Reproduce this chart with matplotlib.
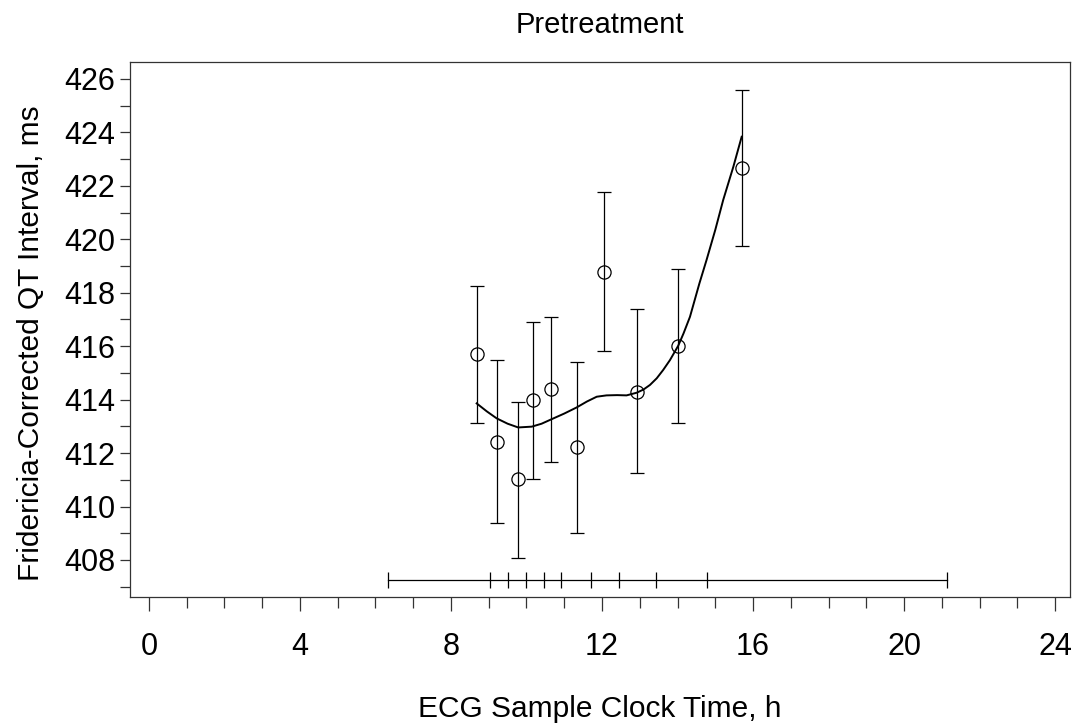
import matplotlib
matplotlib.use("Agg")
import matplotlib.pyplot as plt
from matplotlib.ticker import MultipleLocator

plt.rcParams['font.family'] = ['Liberation Sans', 'DejaVu Sans']

# Binned means with 95% CI
time_h = [8.68, 9.22, 9.78, 10.16, 10.65, 11.33, 12.04, 12.93, 14.01, 15.72]
qtcf_mean = [415.71, 412.43, 411.02, 413.97, 414.40, 412.23, 418.78, 414.30, 416.02, 422.66]
ci_low = [413.13, 409.38, 408.09, 411.04, 411.67, 409.00, 415.82, 411.24, 413.13, 419.75]
ci_high = [418.25, 415.49, 413.90, 416.89, 417.09, 415.42, 421.77, 417.39, 418.89, 425.58]

# Smoothed fit curve
curve_x = [8.68, 8.95, 9.21, 9.50, 9.78, 10.14, 10.40, 10.62, 11.00, 11.33, 11.60, 11.86,
           12.12, 12.40, 12.65, 12.92, 13.10, 13.27, 13.45, 13.62, 13.80, 14.02, 14.16,
           14.33, 14.42, 14.58, 14.77, 15.00, 15.21, 15.48, 15.70]
curve_y = [413.86, 413.56, 413.30, 413.10, 412.96, 412.99, 413.10, 413.24, 413.48, 413.71,
           413.93, 414.11, 414.16, 414.17, 414.16, 414.26, 414.38, 414.55, 414.80, 415.11,
           415.48, 416.02, 416.48, 417.10, 417.55, 418.35, 419.23, 420.35, 421.47, 422.72,
           423.84]

# Bin boundaries (shown along the bottom)
bin_edges = [6.33, 9.03, 9.52, 9.98, 10.47, 10.92, 11.71, 12.45, 13.43, 14.79, 21.15]
bin_bar_y = 407.25

title = "Pretreatment"
xlabel = "ECG Sample Clock Time, h"
ylabel = "Fridericia-Corrected QT Interval, ms"

fig = plt.figure(figsize=(10.78, 7.23), dpi=100)
ax = fig.add_axes([130/1078, 1-597/723, 940/1078, 535/723])

yerr = [[m - l for m, l in zip(qtcf_mean, ci_low)],
        [h - m for m, h in zip(qtcf_mean, ci_high)]]
ax.errorbar(time_h, qtcf_mean, yerr=yerr, fmt='o', mfc='none', mec='black',
            ms=9.5, mew=0.9, ecolor='black', elinewidth=0.9, capsize=5,
            capthick=0.9, zorder=3)
ax.plot(curve_x, curve_y, color='black', lw=1.4, zorder=2)

ax.plot([bin_edges[0], bin_edges[-1]], [bin_bar_y, bin_bar_y], color='black', lw=0.9)
ax.plot(bin_edges, [bin_bar_y]*len(bin_edges), linestyle='none', marker='|',
        ms=12, mew=0.9, color='black')

ax.set_xlim(-0.503, 24.397)
ax.set_ylim(406.615, 426.636)
ax.xaxis.set_major_locator(MultipleLocator(4))
ax.xaxis.set_minor_locator(MultipleLocator(1))
ax.yaxis.set_major_locator(MultipleLocator(2))
ax.yaxis.set_minor_locator(MultipleLocator(1))
ax.tick_params(axis='x', which='major', length=10, width=0.9, pad=15, labelsize=22, color='#333333')
ax.tick_params(axis='x', which='minor', length=8, width=0.9, color='#333333')
ax.tick_params(axis='y', which='major', length=7.5, width=0.9, pad=3, labelsize=22, color='#333333')
ax.tick_params(axis='y', which='minor', length=7, width=0.9, color='#333333')
for s in ax.spines.values():
    s.set_linewidth(0.9)
    s.set_color('#333333')

ax.set_title(title, fontsize=21, pad=21)
ax.set_xlabel(xlabel, fontsize=21.5, labelpad=24)
ax.set_ylabel(ylabel, fontsize=21.5)
ax.yaxis.set_label_coords(-0.0905, 0.475)

fig.savefig("out.png", dpi=100)
